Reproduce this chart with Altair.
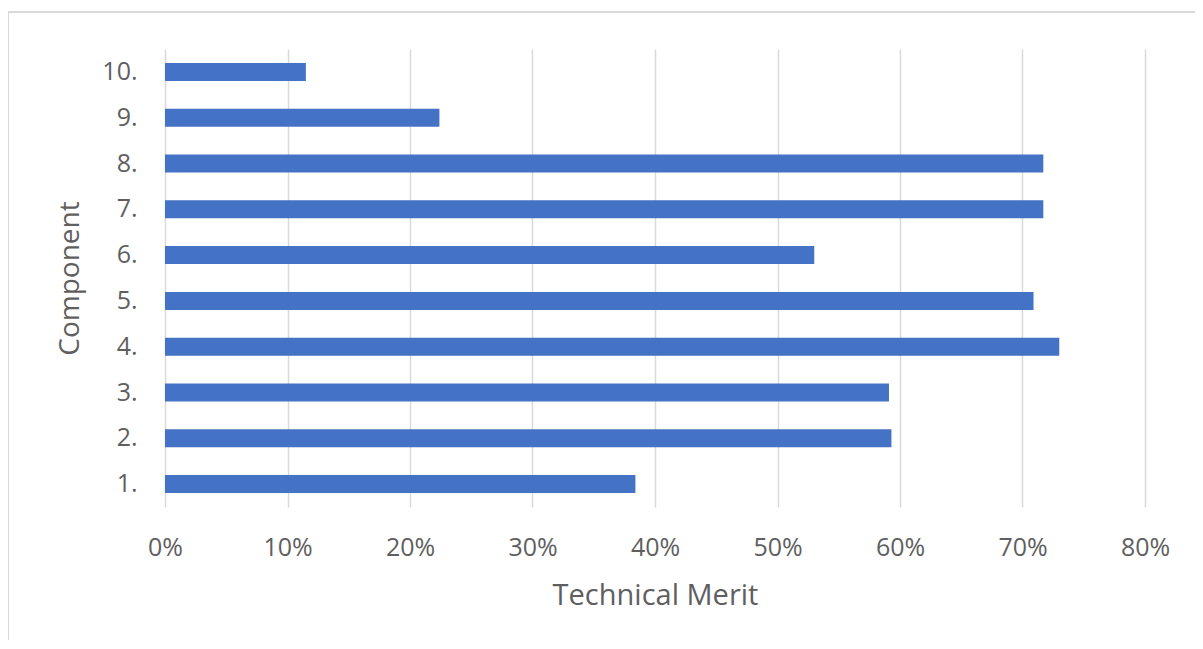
import altair as alt
import pandas as pd

components = ["1.", "2.", "3.", "4.", "5.", "6.", "7.", "8.", "9.", "10."]
merit = [0.384, 0.593, 0.591, 0.730, 0.709, 0.530, 0.717, 0.717, 0.224, 0.115]
tick_values = [0, 0.1, 0.2, 0.3, 0.4, 0.5, 0.6, 0.7, 0.8]

df = pd.DataFrame({"Component": components, "Merit": merit})

FONT = "Open Sans"
GRAY = "#5f5f5f"

bars = alt.Chart(df).mark_bar(color="#4472C4", size=18).encode(
    x=alt.X(
        "Merit:Q",
        scale=alt.Scale(domain=[0, 0.8], nice=False),
        axis=alt.Axis(
            values=tick_values,
            format=".0%",
            title="Technical Merit",
            grid=True,
            gridColor="#d9d9d9",
            gridWidth=1.5,
            domain=False,
            ticks=False,
            labelFont=FONT,
            labelFontSize=25,
            labelColor=GRAY,
            labelAlign="center",
            labelFlush=False,
            labelPadding=28,
            titleFont=FONT,
            titleFontSize=29,
            titleFontWeight="normal",
            titleColor=GRAY,
            titleBaseline="middle",
            titleY=88,
        ),
    ),
    y=alt.Y(
        "Component:N",
        sort=components[::-1],
        scale=alt.Scale(paddingInner=0.6, paddingOuter=0.3),
        axis=alt.Axis(
            title="Component",
            grid=False,
            domain=False,
            ticks=False,
            labelFont=FONT,
            labelFontSize=25,
            labelColor=GRAY,
            labelPadding=28,
            titleFont=FONT,
            titleFontSize=28,
            titleFontWeight="normal",
            titleColor=GRAY,
            titleBaseline="middle",
            titleX=-95,
            titleY=229,
        ),
    ),
)

frame = alt.Chart(pd.DataFrame({"f": [0]})).mark_rect(
    fillOpacity=0, stroke="#d9d9d9", strokeWidth=2
).encode(
    x=alt.value(-157), x2=alt.value(1200), y=alt.value(-37), y2=alt.value(700)
)

chart = alt.layer(frame, bars).properties(
    width=980,
    height=458,
    autosize=alt.AutoSizeParams(type="none"),
    padding={"left": 157, "top": 41, "right": 50, "bottom": 133},
).configure(background="white").configure_view(stroke="transparent", strokeWidth=0)

chart.save("out.html", embed_options={"renderer": "svg", "actions": False})
